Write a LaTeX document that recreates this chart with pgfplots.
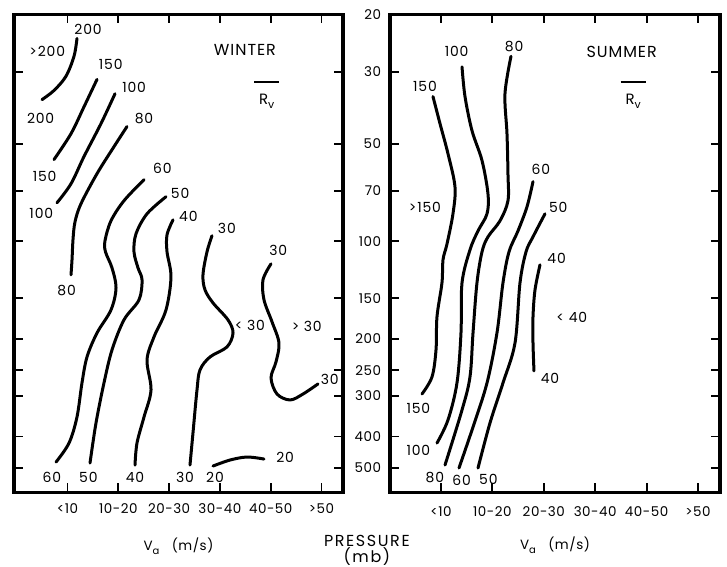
\documentclass[border=0pt]{standalone}
\usepackage{fontspec}
\setmainfont{Poppins}
\usepackage{pgfplots}
\pgfplotsset{compat=1.18}
\newcommand\lf{\fontsize{14}{16}\selectfont\addfontfeature{LetterSpace=6}}
\newcommand\tf{\fontsize{13.5}{16}\selectfont\addfontfeature{LetterSpace=4}}
\begin{document}
\begin{tikzpicture}
\path[use as bounding box] (0,0) rectangle (727bp,567bp);
% ---------------- WINTER ----------------
\begin{axis}[at={(14bp,74.5bp)}, anchor=south west, width=329bp,
    scale only axis, height=478bp,
    ymode=log, y dir=reverse, ymin=20, ymax=595,
    xtick={0,1,2,3,4,5}, xticklabels={<10,10-20,20-30,30-40,40-50,>50},
    ytick={20,30,50,70,100,150,200,250,300,400,500},
    minor ytick={},
    ytick pos=both,
    tick align=inside, major tick length=9bp,
    axis line style={line width=3.2bp},
    line width=3.2bp,
    tick style={line width=1.8bp, black},
    xtick style={draw=none},
    xticklabel style={font=\tf, yshift=-6bp},
    xlabel style={font=\tf, yshift=-16bp},
    cycle list={{black, no markers}},
    every axis plot/.append style={smooth, tension=0.55, line width=3bp, line cap=round},
    clip=false,
  xmin=-1.053, xmax=5.423, yticklabels={},
  xlabel={V\raisebox{-0.5ex}{\fontsize{10}{12}\selectfont a}\ \ \ (m/s)}]
% 200
\addplot coordinates {(0.187,23.7) (0.128,26.9) (-0.030,31.0) (-0.266,34.3) (-0.502,36.6)};
% 150
\addplot coordinates {(0.581,31.7) (0.325,38.5) (0.069,46.6) (-0.266,56.0)};
% 100
\addplot coordinates {(0.935,35.1) (0.659,43.4) (0.325,54.8) (0.069,66.5) (-0.207,76.1)};
% 80
\addplot coordinates {(1.171,44.3) (0.915,51.1) (0.581,61.9) (0.266,76.6) (0.148,87.1) (0.108,99.0) (0.089,114) (0.069,126.9)};
% 60
\addplot coordinates {(1.506,64.6) (1.112,75.0) (0.856,86.5) (0.738,99.7) (0.748,107.8) (0.876,120.8) (0.955,139.2) (0.856,162.8) (0.581,191.7) (0.384,227.3) (0.285,273.4) (0.187,348.1) (0.030,418.8) (-0.226,479.3)};
% 50
\addplot coordinates {(1.939,72.9) (1.565,82.3) (1.348,94.9) (1.309,107.8) (1.388,120.8) (1.467,131.5) (1.407,151.6) (1.112,174.7) (0.876,216.3) (0.718,273.4) (0.561,363.3) (0.443,482.7)};
% 40
\addplot coordinates {(2.077,85.9) (1.959,95.5) (1.959,107.8) (2.037,128.7) (1.939,162.8) (1.703,197.1) (1.565,232.2) (1.644,287.4) (1.506,348.1) (1.368,418.8) (1.329,489.6)};
% 30 (first)
\addplot coordinates {(2.844,96.2) (2.746,107.8) (2.667,126.9) (2.707,141.2) (2.864,154.9) (3.159,174.7) (3.258,191.7) (3.140,211.7) (2.805,227.3) (2.608,249.3) (2.549,287.4) (2.470,390.0) (2.411,489.6)};
% 30 (second)
\addplot coordinates {(4.006,117.4) (3.848,131.5) (3.868,151.6) (4.026,177.2) (4.163,205.8) (4.104,235.5) (4.006,263.8) (4.124,295.7) (4.380,308.5) (4.636,295.7) (4.931,275.3)};
% 20
\addplot coordinates {(2.864,493.1) (3.199,472.5) (3.533,462.5) (3.868,469.2)};
\pgfplotsinvokeforeach{0,1,2,3,4,5}{
  \draw[line width=1.8bp] (axis cs:#1,595) -- (axis cs:#1,558);
  \draw[line width=1.8bp] (axis cs:#1,20) -- (axis cs:#1,21.3);
}
\begin{scope}[font=\lf]
\node at (rel axis cs:0.225,0.969) {200};
\node at (rel axis cs:0.101,0.923) {>200};
\node at (rel axis cs:0.294,0.895) {150};
\node at (rel axis cs:0.081,0.782) {200};
\node at (rel axis cs:0.365,0.847) {100};
\node at (rel axis cs:0.395,0.782) {80};
\node at (rel axis cs:0.093,0.662) {150};
\node at (rel axis cs:0.083,0.584) {100};
\node at (rel axis cs:0.451,0.678) {60};
\node at (rel axis cs:0.505,0.626) {50};
\node at (rel axis cs:0.530,0.577) {40};
\node at (rel axis cs:0.647,0.553) {30};
\node at (rel axis cs:0.803,0.506) {30};
\node at (rel axis cs:0.160,0.423) {80};
\node at (rel axis cs:0.717,0.349) {< 30};
\node at (rel axis cs:0.890,0.347) {> 30};
\node at (rel axis cs:0.960,0.236) {30};
\node at (rel axis cs:0.824,0.074) {20};
\node at (rel axis cs:0.115,0.032) {60};
\node at (rel axis cs:0.226,0.032) {50};
\node at (rel axis cs:0.368,0.032) {40};
\node at (rel axis cs:0.520,0.032) {30};
\node at (rel axis cs:0.611,0.032) {20};
\end{scope}
\node[font=\fontsize{16}{18}\selectfont\addfontfeature{LetterSpace=6}] at (rel axis cs:0.702,0.925) {WINTER};
\node[font=\fontsize{15}{17}\selectfont, align=center, inner sep=0pt] at (rel axis cs:0.768,0.832) {\rule{25bp}{1.6bp}\\[4bp]R\raisebox{-0.5ex}{\fontsize{11}{12}\selectfont v}};
\end{axis}
% ---------------- SUMMER ----------------
\begin{axis}[at={(390bp,74.5bp)}, anchor=south west, width=330bp,
    scale only axis, height=478bp,
    ymode=log, y dir=reverse, ymin=20, ymax=595,
    xtick={0,1,2,3,4,5}, xticklabels={<10,10-20,20-30,30-40,40-50,>50},
    ytick={20,30,50,70,100,150,200,250,300,400,500},
    minor ytick={},
    ytick pos=both,
    tick align=inside, major tick length=9bp,
    axis line style={line width=3.2bp},
    line width=3.2bp,
    tick style={line width=1.8bp, black},
    xtick style={draw=none},
    xticklabel style={font=\tf, yshift=-9bp},
    yticklabel style={font=\tf, xshift=-4bp},
    xlabel style={font=\tf, yshift=-12bp},
    cycle list={{black, no markers}},
    every axis plot/.append style={smooth, tension=0.55, line width=3bp, line cap=round},
    clip=false,
  xmin=-0.992, xmax=5.428,
  yticklabels={20,30,50,70,100,150,200,250,300,400,500},
  yticklabel pos=left,
  xlabel={V\raisebox{-0.5ex}{\fontsize{10}{12}\selectfont a}\ \ \ (m/s)}]
% 150
\addplot coordinates {(-0.156,35.8) (-0.019,43.4) (0.136,53.7) (0.272,67.9) (0.233,82.3) (0.117,101.9) (0.039,114.1) (0.019,134.3) (-0.078,171.0) (-0.097,216.3) (-0.175,261.9) (-0.370,295.7)};
% 100
\addplot coordinates {(0.409,29.0) (0.467,35.8) (0.603,45.6) (0.798,56.4) (0.914,71.4) (0.895,82.3) (0.720,92.9) (0.564,106.3) (0.409,134.3) (0.389,191.7) (0.311,273.4) (0.136,355.6) (-0.078,418.8)};
% 80
\addplot coordinates {(1.362,26.9) (1.245,35.1) (1.284,46.6) (1.303,61.9) (1.303,75.0) (1.148,86.5) (0.914,96.9) (0.798,107.8) (0.700,134.3) (0.623,191.7) (0.564,261.9) (0.409,331.2) (0.078,489.6)};
% 60
\addplot coordinates {(1.790,65.5) (1.673,78.3) (1.498,92.9) (1.323,107.8) (1.206,134.3) (1.089,191.7) (0.895,273.4) (0.623,373.7) (0.350,500.1)};
% 50
\addplot coordinates {(2.023,82.3) (1.790,96.9) (1.654,107.8) (1.537,134.3) (1.440,205.8) (1.206,273.4) (0.953,363.3) (0.720,500.1)};
% 40
\addplot coordinates {(1.926,118.2) (1.829,141.2) (1.790,171.0) (1.790,205.8) (1.809,251.1)};
\pgfplotsinvokeforeach{0,1,2,3,4,5}{
  \draw[line width=1.8bp] (axis cs:#1,595) -- (axis cs:#1,558);
  \draw[line width=1.8bp] (axis cs:#1,20) -- (axis cs:#1,21.3);
}
\begin{scope}[font=\lf]
\node at (rel axis cs:0.202,0.923) {100};
\node at (rel axis cs:0.376,0.932) {80};
\node at (rel axis cs:0.106,0.850) {150};
\node at (rel axis cs:0.106,0.597) {>150};
\node at (rel axis cs:0.457,0.676) {60};
\node at (rel axis cs:0.510,0.597) {50};
\node at (rel axis cs:0.505,0.489) {40};
\node at (rel axis cs:0.551,0.367) {< 40};
\node at (rel axis cs:0.485,0.238) {40};
\node at (rel axis cs:0.086,0.175) {150};
\node at (rel axis cs:0.086,0.089) {100};
\node at (rel axis cs:0.136,0.032) {80};
\node at (rel axis cs:0.217,0.025) {60};
\node at (rel axis cs:0.298,0.027) {50};
\end{scope}
\node[font=\fontsize{16}{18}\selectfont\addfontfeature{LetterSpace=6}] at (rel axis cs:0.702,0.921) {SUMMER};
\node[font=\fontsize{15}{17}\selectfont, align=center, inner sep=0pt] at (rel axis cs:0.737,0.832) {\rule{25bp}{1.6bp}\\[4bp]R\raisebox{-0.5ex}{\fontsize{11}{12}\selectfont v}};
\node[font=\fontsize{16}{15}\selectfont\addfontfeature{LetterSpace=10}, align=center] at (rel axis cs:-0.070,-0.120) {PRESSURE\\(mb)};
\end{axis}
\end{tikzpicture}
\end{document}
